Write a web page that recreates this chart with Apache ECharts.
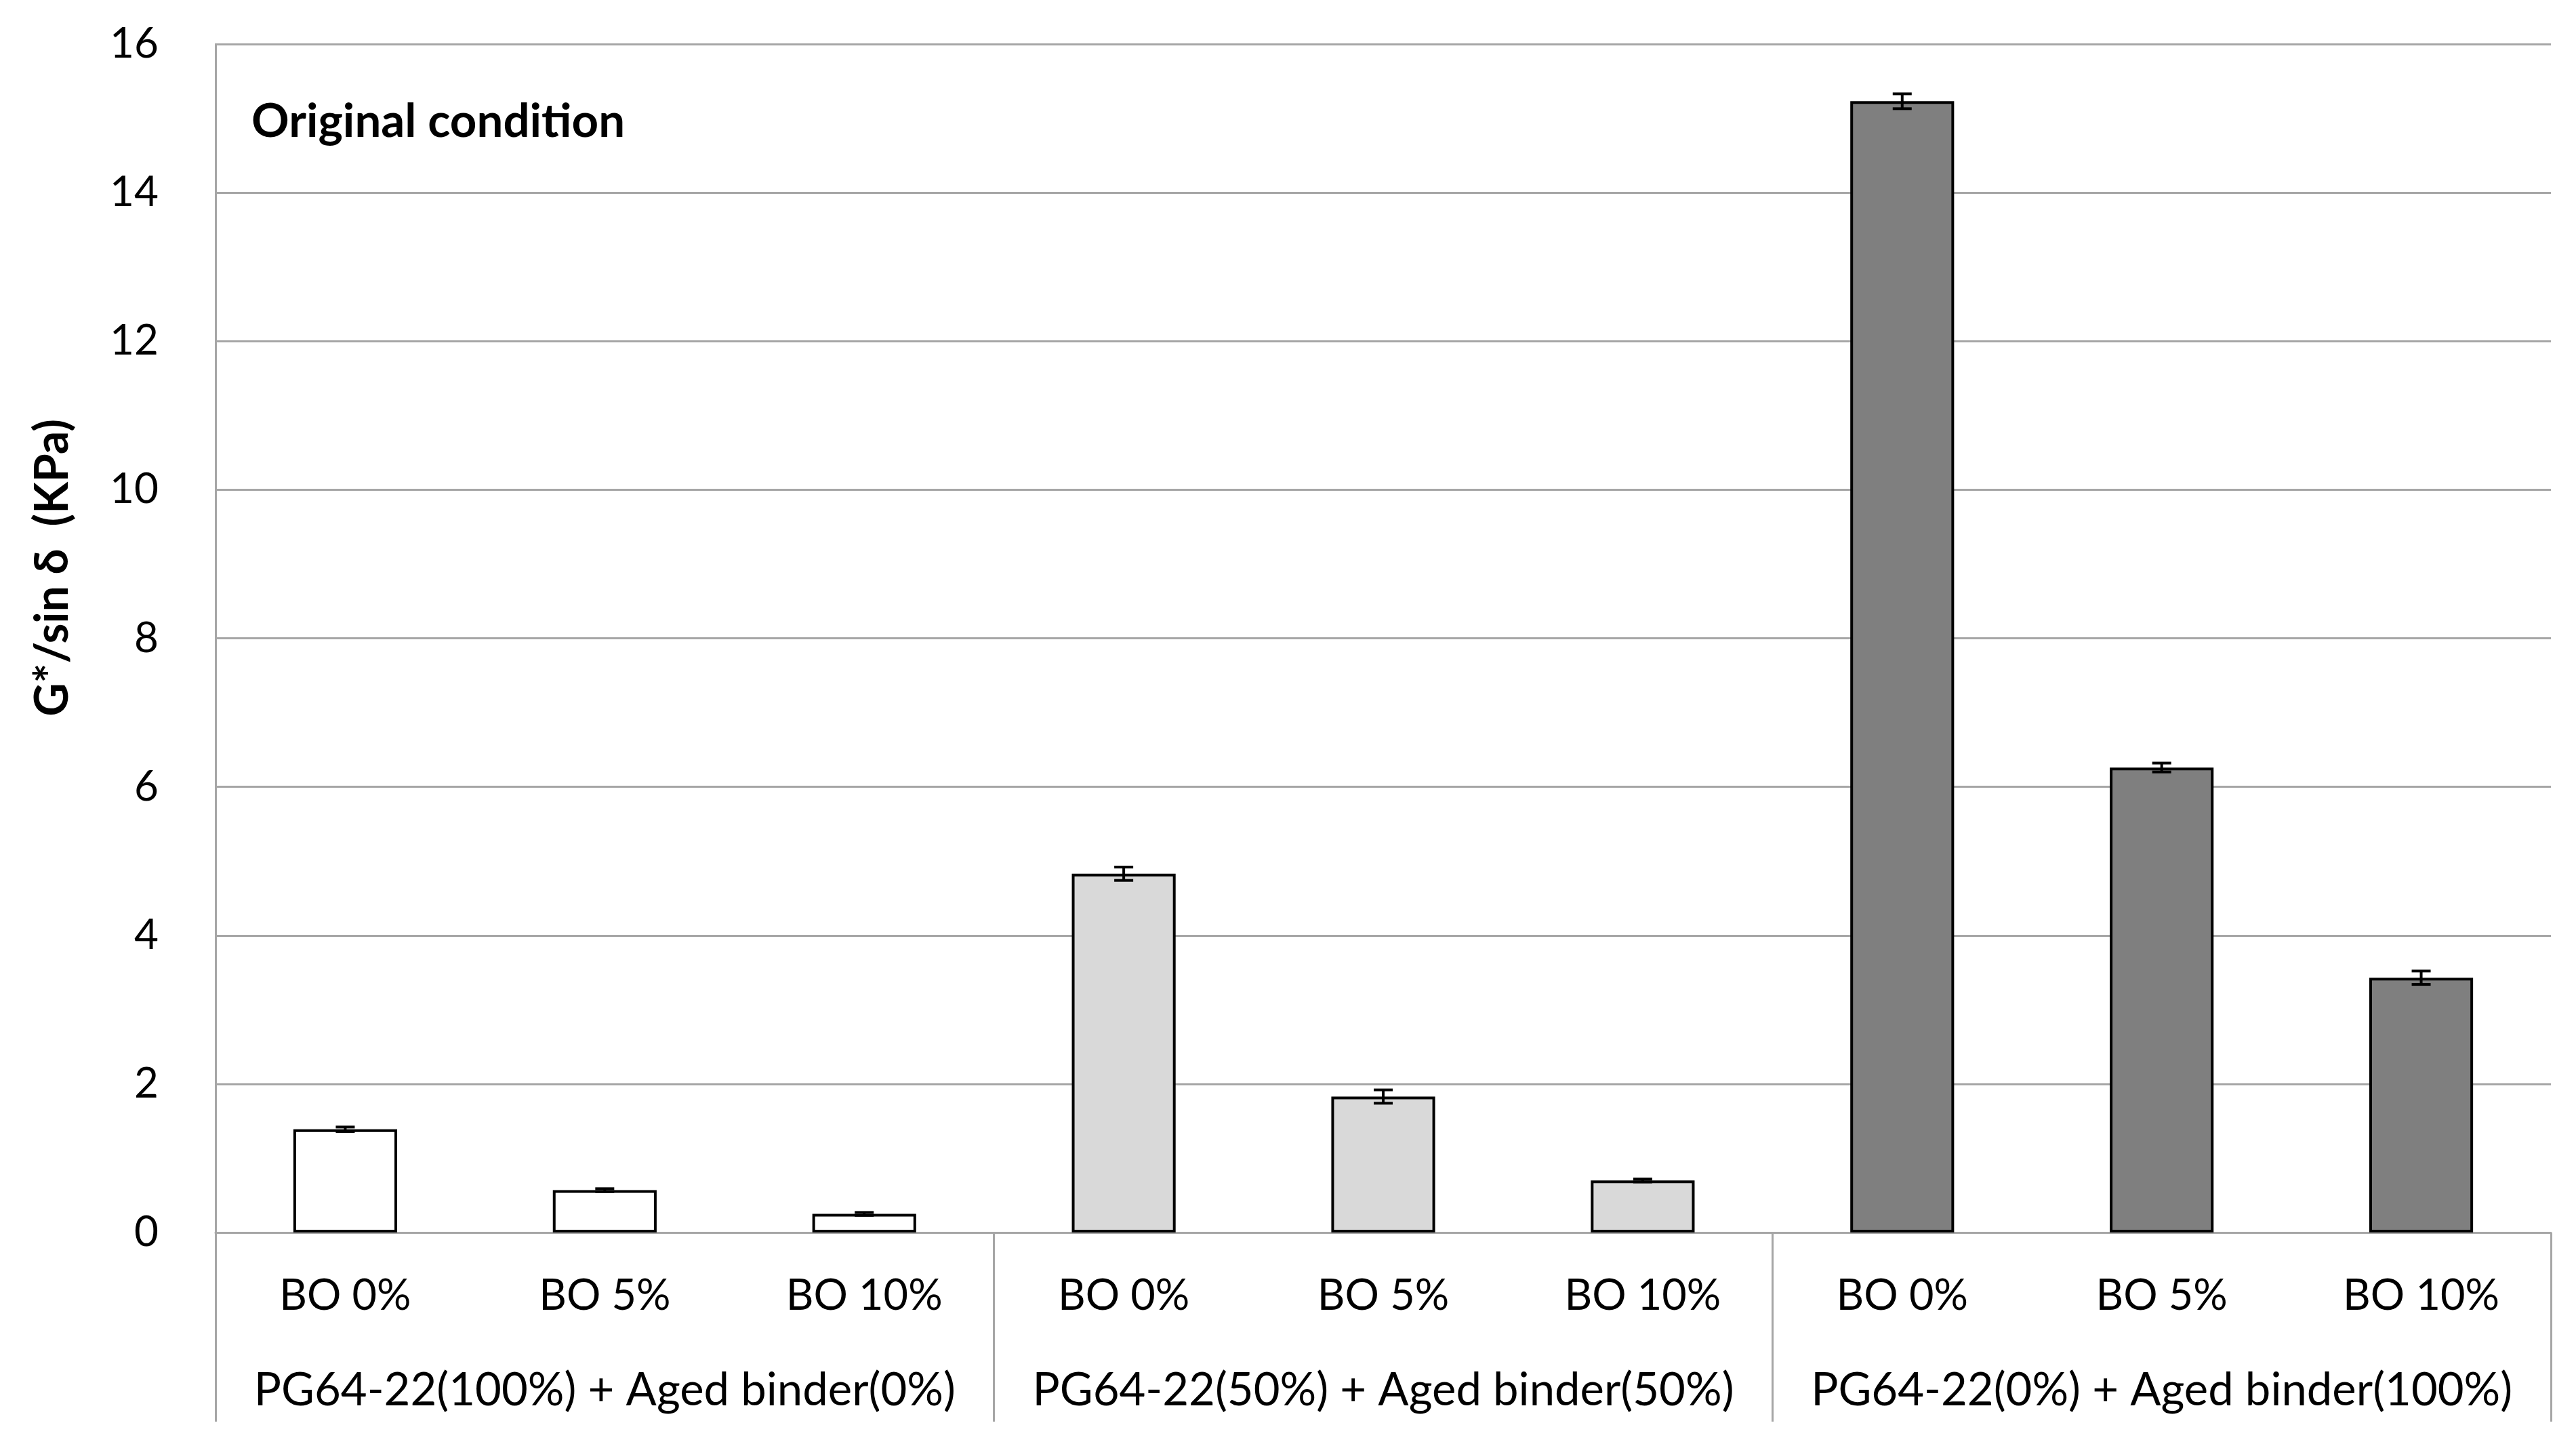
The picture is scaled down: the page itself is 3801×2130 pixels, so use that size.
<!DOCTYPE html>
<html>
<head>
<meta charset="utf-8">
<script src="https://cdn.jsdelivr.net/npm/echarts@6/dist/echarts.min.js"></script>
<style>
html,body{margin:0;padding:0;background:#fff;}
#chart{width:3801px;height:2130px;}
</style>
</head>
<body>
<div id="chart"></div>
<script>
const categories = ['BO 0%','BO 5%','BO 10%','BO 0%','BO 5%','BO 10%','BO 0%','BO 5%','BO 10%'];
const groups = ['PG64-22(100%) + Aged binder(0%)','PG64-22(50%) + Aged binder(50%)','PG64-22(0%) + Aged binder(100%)'];
const groupOfBar = [0,0,0,1,1,1,2,2,2];
const values = [1.39, 0.57, 0.25, 4.83, 1.83, 0.70, 15.23, 6.26, 3.43];
const errors = [0.03, 0.02, 0.02, 0.09, 0.09, 0.02, 0.10, 0.06, 0.09];
const groupColors = ['#ffffff','#d9d9d9','#7f7f7f'];
const yTicks = [0,2,4,6,8,10,12,14,16];

const FONT = 'Lato';
const GRID = '#a6a6a6';

const chart = echarts.init(document.getElementById('chart'));

const barData = values.map((v,i)=>({
  value: v,
  itemStyle: { color: groupColors[groupOfBar[i]] }
}));
const errData = values.map((v,i)=>[i, v - errors[i], v + errors[i]]);

chart.setOption({
  animation: false,
  backgroundColor: '#ffffff',
  title: {
    text: 'Original condition',
    left: 366, top: 140,
    textStyle: { fontFamily: FONT, fontWeight: 'bold', fontSize: 69, color: '#000' }
  },
  grid: { left: 318, right: 37, top: 65, bottom: 312, containLabel: false },
  xAxis: [
    {
      type: 'category',
      data: categories,
      position: 'bottom',
      axisLine: { show: true, lineStyle: { color: GRID, width: 3 } },
      axisTick: { show: false },
      axisLabel: { fontFamily: FONT, fontSize: 63, color: '#000', margin: 62, interval: 0 }
    },
    {
      type: 'category',
      data: groups,
      position: 'bottom',
      axisLine: { show: false },
      axisTick: { show: true, length: 279, lineStyle: { color: GRID, width: 3 } },
      axisLabel: { fontFamily: FONT, fontSize: 67, color: '#000', margin: 200, interval: 0 }
    }
  ],
  yAxis: {
    type: 'value',
    min: 0, max: 16, interval: 2,
    name: 'G*/sin δ  (KPa)',
    nameLocation: 'middle',
    nameGap: 206,
    nameRotate: 90,
    nameTextStyle: { fontFamily: FONT, fontWeight: 'bold', fontSize: 68, color: '#000',
      padding: [0, 0, 0, 208] },
    axisLine: { show: true, lineStyle: { color: GRID, width: 3 } },
    axisTick: { show: false },
    axisLabel: { fontFamily: FONT, fontSize: 62, color: '#000', margin: 84,
      formatter: v => yTicks.includes(v) ? String(v) : '' },
    splitLine: { show: true, lineStyle: { color: GRID, width: 3 } }
  },
  series: [
    {
      type: 'bar',
      xAxisIndex: 0,
      data: barData,
      barWidth: '40%',
      itemStyle: { borderColor: '#000', borderWidth: 4 },
      z: 2
    },
    {
      type: 'custom',
      xAxisIndex: 0,
      data: errData,
      z: 5,
      renderItem: function (params, api) {
        const x = api.value(0);
        const lo = api.coord([x, api.value(1)]);
        const hi = api.coord([x, api.value(2)]);
        const hw = 14;
        const style = { stroke: '#000', lineWidth: 4 };
        return {
          type: 'group',
          children: [
            { type: 'line', shape: { x1: lo[0], y1: lo[1], x2: hi[0], y2: hi[1] }, style },
            { type: 'line', shape: { x1: hi[0]-hw, y1: hi[1], x2: hi[0]+hw, y2: hi[1] }, style },
            { type: 'line', shape: { x1: lo[0]-hw, y1: lo[1], x2: lo[0]+hw, y2: lo[1] }, style }
          ]
        };
      }
    }
  ]
});
</script>
</body>
</html>
